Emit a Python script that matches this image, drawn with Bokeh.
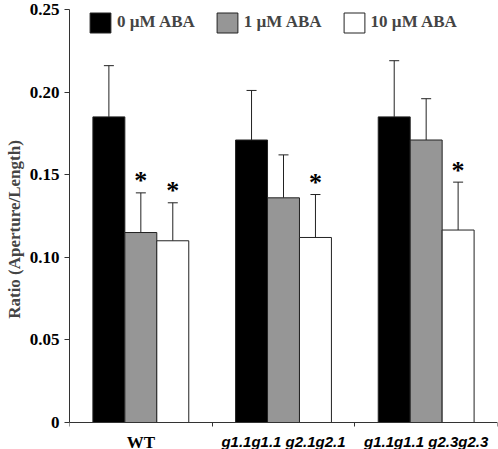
from bokeh.plotting import figure
from bokeh.models import (ColumnDataSource, Whisker, TeeHead, Legend, LegendItem,
                          FixedTicker, CustomJSTickFormatter, Label, Range1d)
from bokeh.embed import file_html
from bokeh.resources import INLINE

# ---- data ----
groups = ["WT", "g1.1g1.1 g2.1g2.1", "g1.1g1.1 g2.3g2.3"]
treatments = ["0 \u00b5M ABA", "1 \u00b5M ABA", "10 \u00b5M ABA"]
aba0 = [0.185, 0.171, 0.185]
aba0_err = [0.031, 0.030, 0.034]
aba1 = [0.115, 0.136, 0.171]
aba1_err = [0.024, 0.026, 0.025]
aba10 = [0.110, 0.112, 0.1165]
aba10_err = [0.023, 0.026, 0.029]
aba0_sig = [False, False, False]
aba1_sig = [True, False, False]
aba10_sig = [True, True, True]
y_ticks = [0, 0.05, 0.10, 0.15, 0.20, 0.25]

series = [(aba0, aba0_err, aba0_sig), (aba1, aba1_err, aba1_sig), (aba10, aba10_err, aba10_sig)]
fills = ["#000000", "#969696", "#ffffff"]
offsets = [-0.224, 0.0, 0.224]
bar_w = 0.224

SERIF = "Liberation Serif"
SANS = "Liberation Sans"

W, H = 498, 449
TOP, LEFT, RIGHT = 9, 69, 1
ZERO_PX = 422  # canvas y of value 0
frame_h = H - TOP
px_per_unit = (ZERO_PX - TOP) / 0.25
y_min = -(H - ZERO_PX) / px_per_unit

p = figure(width=W, height=H, output_backend="svg", toolbar_location=None,
           x_range=Range1d(0, 3), y_range=Range1d(y_min, 0.25),
           min_border_left=LEFT, min_border_right=RIGHT, min_border_top=TOP, min_border_bottom=0)
p.outline_line_color = None
p.xgrid.visible = False
p.ygrid.visible = False
p.background_fill_color = "white"

legend_items = []
for k, (vals, errs, sigs) in enumerate(series):
    xs = [i + 0.5 + offsets[k] for i in range(len(groups))]
    src = ColumnDataSource(dict(x=xs, top=vals, upper=[v + e for v, e in zip(vals, errs)]))
    r = p.vbar(x="x", top="top", width=bar_w, source=src, fill_color=fills[k],
               line_color="#222222", line_width=1)
    legend_items.append(LegendItem(label=treatments[k], renderers=[r]))
    w = Whisker(base="x", lower="top", upper="upper", source=src, dimension="height",
                line_color="#222222", line_width=1,
                upper_head=TeeHead(size=10, line_color="#222222", line_width=1), lower_head=None)
    p.add_layout(w)
    sx = [x for x, s in zip(xs, sigs) if s]
    sy = [v + e for v, e, s in zip(vals, errs, sigs) if s]
    if sx:
        p.text(x=sx, y=sy, text=["*"] * len(sx), text_align="center", text_baseline="alphabetic",
               y_offset=-12, text_font_size="26px", text_font_style="bold",
               text_font={"value": SERIF}, text_color="black")

# legend box top at canvas y ~12 (glyph inset 10%)
legend = Legend(items=legend_items, orientation="horizontal",
                location=(18, frame_h - (9.5 - TOP) - 25),
                glyph_width=26, glyph_height=25, label_standoff=4, spacing=19,
                padding=0, margin=0, border_line_alpha=0, background_fill_alpha=0,
                label_text_font=SERIF, label_text_font_style="bold", label_text_font_size="17px")
p.add_layout(legend)

# y axis
p.yaxis.bounds = (0, 0.25)
p.yaxis.ticker = FixedTicker(ticks=y_ticks)
p.yaxis.formatter = CustomJSTickFormatter(code="return tick == 0 ? '0' : tick.toFixed(2);")
p.yaxis.minor_tick_line_color = None
p.yaxis.major_tick_in = 0
p.yaxis.major_tick_out = 5
p.yaxis.major_label_standoff = 5
p.yaxis.major_label_text_font = SERIF
p.yaxis.major_label_text_font_style = "bold"
p.yaxis.major_label_text_font_size = "17px"
p.yaxis.major_label_text_color = "black"
p.yaxis.axis_label = "Ratio (Aperture/Length)"
p.yaxis.axis_label_text_font = SERIF
p.yaxis.axis_label_text_font_style = "bold"
p.yaxis.axis_label_text_font_size = "17px"
p.yaxis.axis_label_standoff = 3
p.yaxis.axis_line_color = "#333333"
p.yaxis.major_tick_line_color = "#333333"

# x axis (placed at value 0 inside the frame)
p.xaxis.fixed_location = 0
p.xaxis.ticker = FixedTicker(ticks=[0, 1, 2, 3])
p.xaxis.formatter = CustomJSTickFormatter(code="return '';")
p.xaxis.minor_tick_line_color = None
p.xaxis.major_tick_in = 0
p.xaxis.major_tick_out = 4
p.xaxis.major_label_text_font_size = "1px"
p.xaxis.axis_line_color = "#333333"
p.xaxis.major_tick_line_color = "#333333"

for i, g in enumerate(groups):
    if i == 0:
        lab = Label(x=i + 0.5, y=0, y_offset=-10, text=g, text_align="center",
                    text_baseline="top", text_font=SERIF, text_font_style="bold",
                    text_font_size="17px", text_color="black")
    else:
        lab = Label(x=i + 0.5, y=0, y_offset=-19, text=g, text_align="center",
                    text_baseline="alphabetic", text_font=SANS, text_font_style="bold italic",
                    text_font_size="15px", text_color="black")
    p.add_layout(lab)

open("out.html", "w").write(file_html(p, INLINE))
